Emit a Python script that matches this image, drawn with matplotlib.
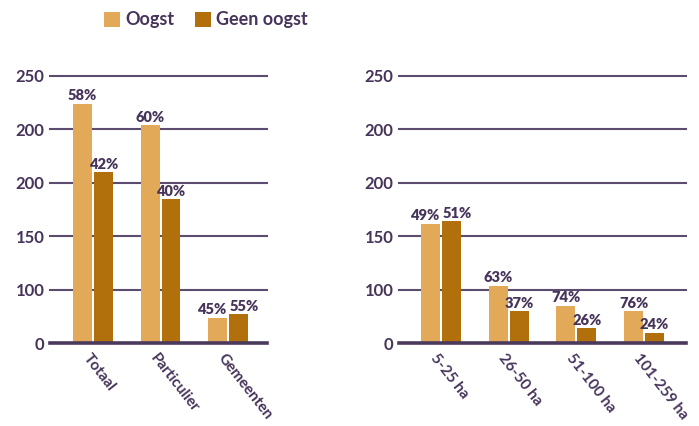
import matplotlib
matplotlib.use("Agg")
import matplotlib.pyplot as plt
from matplotlib.patches import Patch
import matplotlib.transforms as mtransforms
import numpy as np

# ---- data ----
series_names = ["Oogst", "Geen oogst"]
left_categories = ["Totaal", "Particulier", "Gemeenten"]
left_oogst = [224, 204, 24]
left_geen = [160, 135, 27]
left_oogst_pct = ["58%", "60%", "45%"]
left_geen_pct = ["42%", "40%", "55%"]

right_categories = ["5-25 ha", "26-50 ha", "51-100 ha", "101-259 ha"]
right_oogst = [112, 54, 35, 30]
right_geen = [114, 30, 14, 10]
right_oogst_pct = ["49%", "63%", "74%", "76%"]
right_geen_pct = ["51%", "37%", "26%", "24%"]

ytick_values = [0, 50, 100, 150, 200, 250]
ytick_labels = ["0", "100", "150", "200", "200", "250"]

# ---- style ----
C_OOGST = "#E2A958"
C_GEEN = "#B2700D"
C_TEXT = "#46345A"
C_GRID = "#5C4C70"
FONT = "Lato"

W, H = 699, 426
fig = plt.figure(figsize=(W / 100, H / 100), dpi=100)
pairs = []


def make_panel(rect, cats, oogst, geen, p_o, p_g, xlim):
    ax = fig.add_axes(rect)
    x = np.arange(len(cats))
    bw = 0.28
    off = 0.155
    ax.bar(x - off, oogst, width=bw, color=C_OOGST, zorder=3)
    ax.bar(x + off, geen, width=bw, color=C_GEEN, zorder=3)
    kw = dict(xytext=(0, 1), textcoords="offset points", ha="center",
              va="bottom", fontsize=10.5, fontweight="heavy", family=FONT,
              color=C_TEXT, zorder=4)
    for i in range(len(cats)):
        a = ax.annotate(p_o[i], (x[i] - off, oogst[i]), **kw)
        b = ax.annotate(p_g[i], (x[i] + off, geen[i]), **kw)
        pairs.append((a, b))
    ax.set_xlim(*xlim)
    ax.set_ylim(0, 250)
    for v in ytick_values:
        ax.axhline(v, color=C_GRID if v else "#4A3A5C",
                   lw=1.5 if v else 2.6, zorder=2 if v else 5, clip_on=False)
    for sp in ax.spines.values():
        sp.set_visible(False)
    ax.set_yticks(ytick_values)
    ax.set_yticklabels(ytick_labels, fontsize=12, fontweight="bold",
                       family=FONT, color=C_TEXT)
    ax.tick_params(axis="y", length=0, pad=4)
    ax.set_xticks(x)
    ax.set_xticklabels(cats, rotation=-52, ha="left", va="top",
                       rotation_mode="anchor", fontsize=11,
                       fontweight="bold", family=FONT, color=C_TEXT)
    ax.tick_params(axis="x", length=0, pad=6)
    shift = mtransforms.ScaledTranslation(-1.5 / 72, 0, fig.dpi_scale_trans)
    for lab in ax.get_xticklabels():
        lab.set_transform(lab.get_transform() + shift)
    ax.set_facecolor("none")
    return ax


make_panel([50 / W, 82.7 / H, 217 / W, 267.3 / H], left_categories,
           left_oogst, left_geen, left_oogst_pct, left_geen_pct, (-0.64, 2.58))
make_panel([399 / W, 82.7 / H, 287 / W, 267.3 / H], right_categories,
           right_oogst, right_geen, right_oogst_pct, right_geen_pct, (-0.62, 3.62))

# nudge adjacent percentage labels apart where they collide
fig.canvas.draw()
r = fig.canvas.get_renderer()
for a, b in pairs:
    ba = a.get_window_extent(r)
    bb = b.get_window_extent(r)
    if ba.y1 > bb.y0 and bb.y1 > ba.y0:
        overlap = ba.x1 - bb.x0 + 4
        if overlap > 0:
            d = overlap / 2 * 72 / fig.dpi
            a.xyann = (-d, 1)
            b.xyann = (d, 1)

handles = [Patch(facecolor=C_OOGST), Patch(facecolor=C_GEEN)]
leg = fig.legend(handles, series_names, loc="center left",
                 bbox_to_anchor=(104 / W, 1 - 20 / H), ncol=2, frameon=False,
                 borderpad=0, borderaxespad=0, handlelength=0.9,
                 handleheight=0.9, handletextpad=0.3, columnspacing=1.1,
                 prop={"family": FONT, "weight": "bold", "size": 13})
for t in leg.get_texts():
    t.set_color(C_TEXT)

fig.savefig("out.png", dpi=100)
